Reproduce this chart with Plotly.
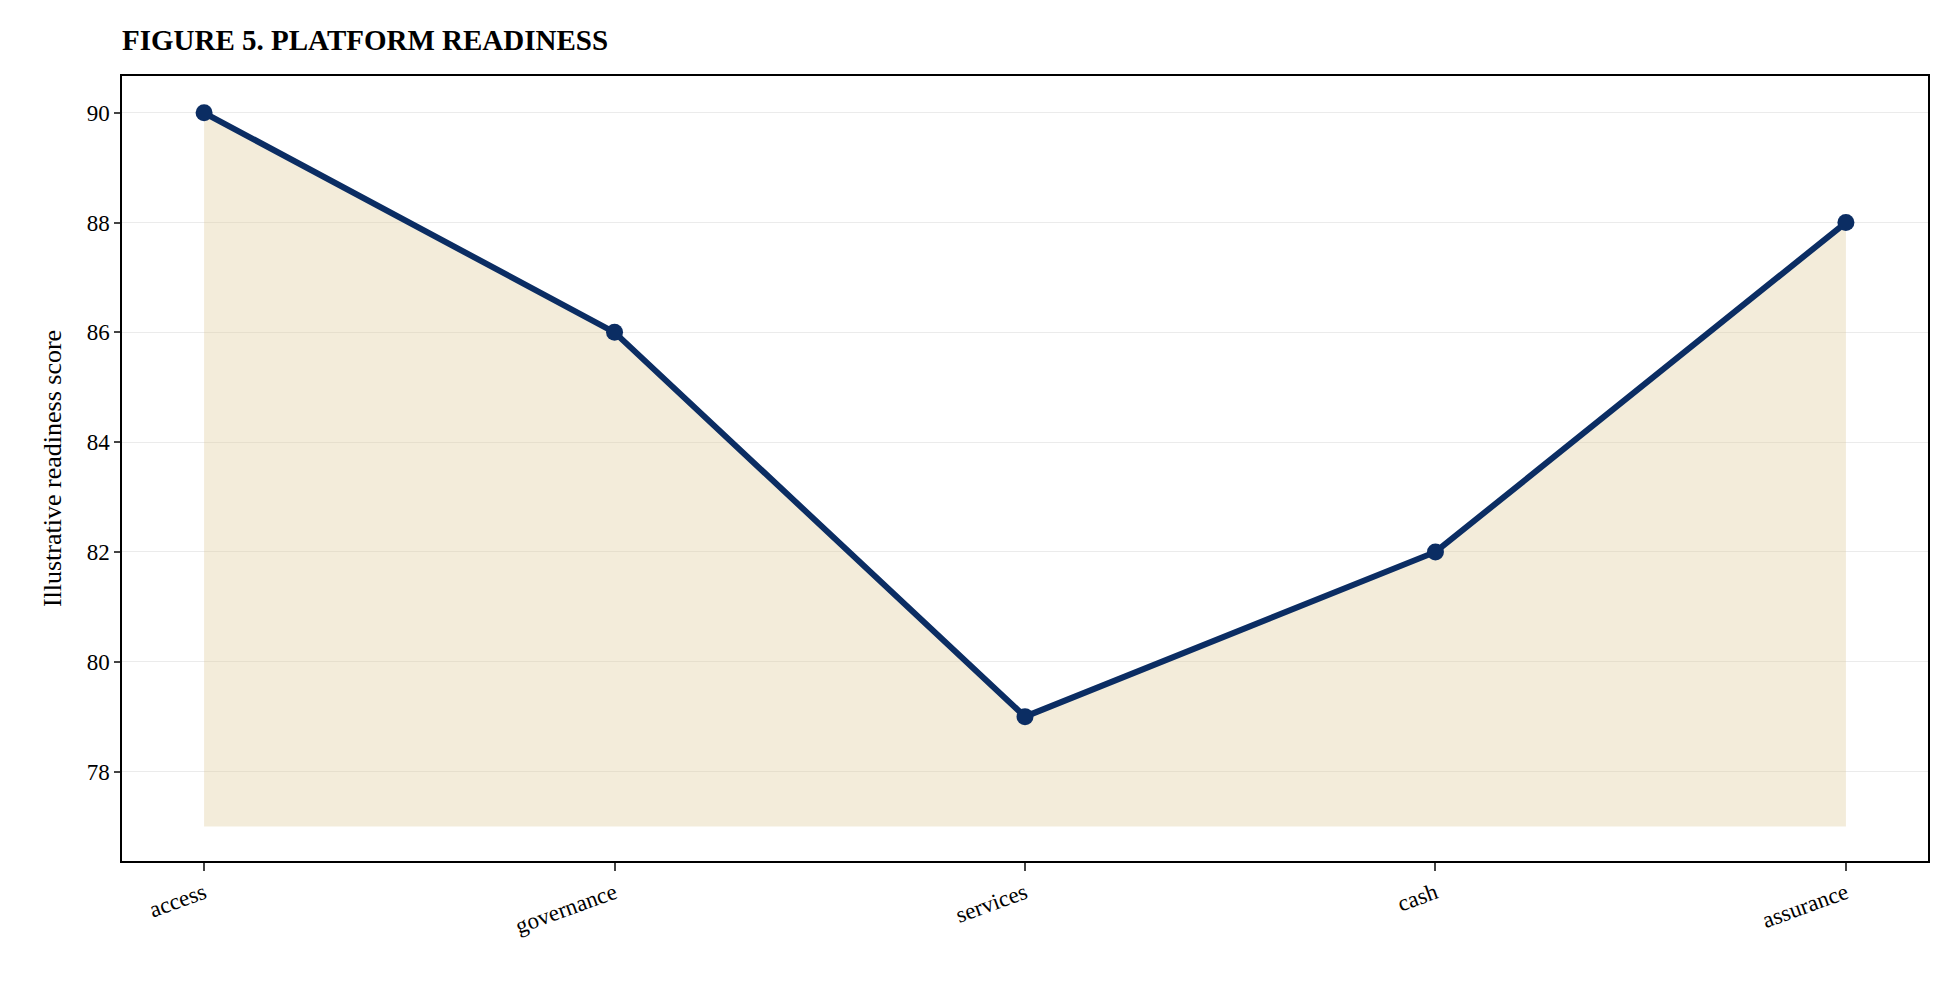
import plotly.graph_objects as go

categories = ["access", "governance", "services", "cash", "assurance"]
scores = [90, 86, 79, 82, 88]
baseline = [77, 77, 77, 77, 77]

fig = go.Figure()
fig.add_trace(go.Scatter(x=categories, y=baseline, mode="lines",
                         line=dict(width=0), hoverinfo="skip", showlegend=False))
fig.add_trace(go.Scatter(x=categories, y=scores, mode="lines", fill="tonexty",
                         fillcolor="rgba(222,200,150,0.35)", line=dict(width=0),
                         hoverinfo="skip", showlegend=False))
fig.add_trace(go.Scatter(x=categories, y=scores, mode="lines+markers",
                         line=dict(color="#0b2d63", width=6),
                         marker=dict(size=17, color="#0b2d63"), showlegend=False))

font = "Liberation Serif, Times New Roman, serif"
fig.update_layout(
    width=1940, height=983,
    margin=dict(l=114, r=20, t=68, b=130),
    paper_bgcolor="white", plot_bgcolor="white",
    font=dict(family=font, size=23, color="black"),
    title=dict(text="<b>FIGURE 5. PLATFORM READINESS</b>", x=114/1940, xanchor="left",
               y=1-32/983, yanchor="middle", font=dict(size=29, family=font)),
)
fig.update_xaxes(range=[-0.2, 4.2], showline=True, linecolor="black", linewidth=1.5,
                 mirror=True, ticks="outside", ticklen=8, tickwidth=1.5,
                 tickangle=-20, showgrid=False, tickfont=dict(size=23))
fig.update_yaxes(range=[76.37, 90.67], showline=True, linecolor="black", linewidth=1.5,
                 mirror=True, ticks="outside", ticklen=6, tickwidth=1.5,
                 tickvals=[78, 80, 82, 84, 86, 88, 90], showgrid=True,
                 gridcolor="rgba(0,0,0,0.08)", zeroline=False,
                 title=dict(text="Illustrative readiness score", font=dict(size=26), standoff=18))
fig.write_html("out.html")
